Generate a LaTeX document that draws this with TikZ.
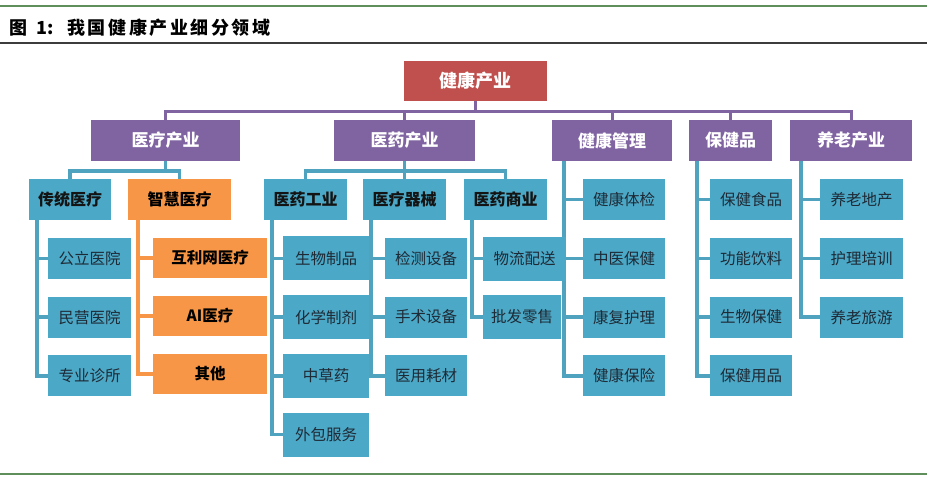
\documentclass[tikz,border=0pt]{standalone}
\usepackage{fontspec}
\setmainfont{Noto Sans CJK SC}
\usepackage{tikz}
\usetikzlibrary{backgrounds}
\definecolor{rootred}{HTML}{C0504D}
\definecolor{secpurple}{HTML}{8064A2}
\definecolor{leafteal}{HTML}{4BA8C6}
\definecolor{lineteal}{HTML}{4FA3BE}
\definecolor{smartorange}{HTML}{F79646}
\definecolor{inktext}{HTML}{1E2A36}
\definecolor{rulegreen}{HTML}{5F8F5B}
\definecolor{ruledark}{HTML}{3C3C3C}
\tikzset{%
	rootbox/.style   = {rectangle, fill=rootred, text=white, inner sep=0pt, minimum height=40pt, font=\fontsize{18}{20}\selectfont\bfseries},
	sector/.style    = {rectangle, fill=secpurple, text=white, inner sep=0pt, minimum height=41pt, font=\fontsize{17}{20}\selectfont\bfseries},
	branch/.style    = {rectangle, fill=leafteal, text=black!92, inner sep=0pt, minimum width=83pt, minimum height=41pt, font=\fontsize{16}{19}\selectfont\bfseries},
	smartbox/.style  = {branch, fill=smartorange, text=black},
	leaf/.style      = {rectangle, fill=leafteal, text=inktext, inner sep=0pt, minimum width=83pt, minimum height=41pt, font=\fontsize{15.5}{18}\selectfont},
	smartleaf/.style = {leaf, fill=smartorange, text=black, minimum width=114pt, minimum height=40pt, font=\fontsize{15.5}{18}\selectfont\bfseries},
	purpleline/.style = {draw=secpurple, line width=3pt},
	tealline/.style   = {draw=lineteal, line width=3.5pt},
	orangeline/.style = {draw=smartorange, line width=3.5pt},
}

\begin{document}
\begin{tikzpicture}[x=1pt,y=-1pt]
		\useasboundingbox (0,0) rectangle (927,483);
		% title bar
		\draw[rulegreen, line width=2pt] (0,6) -- (927,6);
		\node[anchor=west, inner sep=0pt, font=\fontsize{18}{20}\selectfont\bfseries] (title) at (9,28) {图\hspace{9pt}1:\hspace{14pt}{\addfontfeature{LetterSpace=14}我国健康产业细分领域}};
		\draw[ruledark, line width=2pt] (0,43) -- (927,43);
		\draw[rulegreen, line width=2pt] (0,474) -- (927,474);
		
		% root and sectors
		\node[rootbox, minimum width=143pt] (root) at (475.5,81) {健康产业};
		
		\node[sector, minimum width=149pt] (ylcy) at (165.5,140.5) {医疗产业};
		\node[sector, minimum width=141pt] (yycy) at (404.5,140.5) {医药产业};
		\node[sector, minimum width=120pt] (jkgl) at (612,140.5) {健康管理};
		\node[sector, minimum width=83pt] (bjp) at (730.5,140.5) {保健品};
		\node[sector, minimum width=122pt] (ylao) at (851,140.5) {养老产业};
		
		% branches
		\node[branch, minimum width=82pt] (ctyl) at (70,199.5) {传统医疗};
		\node[smartbox, minimum width=103pt] (zhyl) at (179.5,199.5) {智慧医疗};
		\node[branch] (yygy) at (305.5,199.5) {医药工业};
		\node[branch] (ylqx) at (404.5,199.5) {医疗器械};
		\node[branch] (yysy) at (505.5,199.5) {医药商业};
		
		% leaves
		\foreach \t [count=\i] in {公立医院,民营医院,专业诊所}
			\node[leaf] (ct\i) at (89.5,{199.5+\i*58.8}) {\t};
		\foreach \t [count=\i] in {互利网医疗,AI医疗,其他}
			\node[smartleaf] (zh\i) at (210,{200+\i*58}) {\t};
		\foreach \t [count=\i] in {生物制品,化学制剂,中草药,外包服务}
			\node[leaf, minimum width=86pt, minimum height=44pt] (gy\i) at (326,{199.5+\i*58.8}) {\t};
		\foreach \t [count=\i] in {检测设备,手术设备,医用耗材}
			\node[leaf, minimum width=82pt] (qx\i) at (426,{199.5+\i*58.8}) {\t};
		\node[leaf, minimum height=44pt] (sy1) at (524.5,258.5) {物流配送};
		\node[leaf, minimum width=78pt, minimum height=44pt] (sy2) at (522,317) {批发零售};
		\foreach \t [count=\i from 0] in {健康体检,中医保健,康复护理,健康保险}
			\node[leaf, minimum width=82pt] (gl\i) at (624,{199.5+\i*58.8}) {\t};
		\foreach \t [count=\i from 0] in {保健食品,功能饮料,生物保健,保健用品}
			\node[leaf, minimum width=82pt] (bj\i) at (751,{199.5+\i*58.8}) {\t};
		\foreach \t [count=\i from 0] in {养老地产,护理培训,养老旅游}
			\node[leaf] (la\i) at (861.5,{199.5+\i*58.8}) {\t};
		
		% connectors
		\begin{scope}[on background layer]
		\foreach \s in {ylcy,yycy,jkgl,bjp,ylao} \draw[purpleline] (root.south) -- ++(0,10) -| (\s.north);
		\draw[tealline] (ylcy.south) -- ++(0,10) -| (ctyl.north);
		\draw[tealline] (ylcy.south) -- ++(0,10) -| (zhyl.north);
		\foreach \s in {yygy,ylqx,yysy} \draw[tealline] (yycy.south) -- ++(0,10) -| (\s.north);
		
		\foreach \i in {1,2,3} \draw[tealline] ([xshift=8pt]ctyl.south west) |- (ct\i.west);
		\foreach \i in {1,2,3} \draw[orangeline] ([xshift=10pt]zhyl.south west) |- (zh\i.west);
		\foreach \i in {1,...,4} \draw[tealline] ([xshift=8pt]yygy.south west) |- (gy\i.west);
		\foreach \i in {1,2,3} \draw[tealline] ([xshift=8pt]ylqx.south west) |- (qx\i.west);
		\foreach \i in {1,2} \draw[tealline] ([xshift=8pt]yysy.south west) |- (sy\i.west);
		\foreach \i in {0,...,3} \draw[tealline] ([xshift=12pt]jkgl.south west) |- (gl\i.west);
		\foreach \i in {0,...,3} \draw[tealline] ([xshift=8pt]bjp.south west) |- (bj\i.west);
		\foreach \i in {0,1,2} \draw[tealline] ([xshift=11pt]ylao.south west) |- (la\i.west);
		\end{scope}
\end{tikzpicture}
\end{document}
